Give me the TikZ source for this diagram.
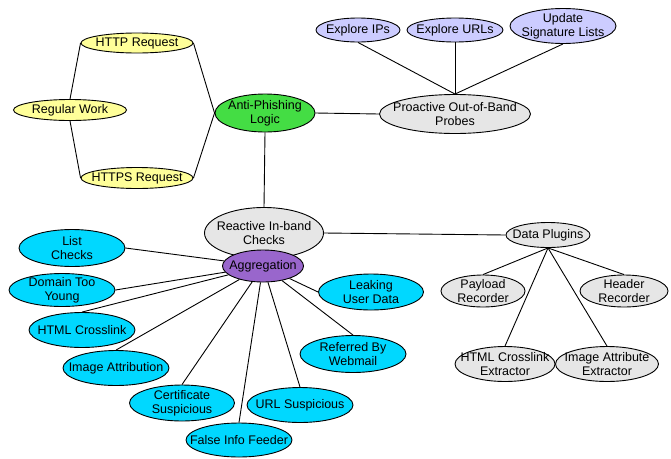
\documentclass[tikz,border=0pt]{standalone}
\usepackage{fontspec}
\setmainfont{Liberation Sans}
\usetikzlibrary{shapes.geometric,backgrounds}

\definecolor{reqyellow}{HTML}{FFFF99}
\definecolor{logicgreen}{HTML}{44DD44}
\definecolor{probeblue}{HTML}{CCCCFF}
\definecolor{plaingray}{HTML}{E6E6E6}
\definecolor{checkcyan}{HTML}{00D8FF}
\definecolor{aggpurple}{HTML}{9966CC}

\tikzset{
  bubble/.style 2 args={ellipse, draw=black, line width=0.9pt, inner sep=0pt,
    minimum width=#1, minimum height=#2},
  txt/.style={label={[align=center, inner sep=0pt,
    font=\fontsize{12.5}{13.6}\selectfont]center:#1}},
  link/.style={draw=black, line width=0.9pt},
}

\begin{document}
\begin{tikzpicture}[x=1pt, y=-1pt]
\useasboundingbox (0,0) rectangle (671,458);

% request flow
\node[bubble={112pt}{20pt}, fill=reqyellow, txt={HTTP Request}] (http) at (137,43) {};
\node[bubble={113pt}{21pt}, fill=reqyellow, txt={Regular Work}] (work) at (70,110) {};
\node[bubble={112pt}{21pt}, fill=reqyellow, txt={HTTPS Request}] (https) at (137,178) {};
\node[bubble={100pt}{38pt}, fill=logicgreen, txt={Anti-Phishing\\Logic}] (logic) at (265,113) {};

% proactive probes
\node[bubble={151pt}{39pt}, fill=plaingray, txt={Proactive Out-of-Band\\Probes}] (probes) at (455,114) {};
\node[bubble={84pt}{24pt}, fill=probeblue, txt={Explore IPs}] (ips) at (358,30) {};
\node[bubble={96pt}{24pt}, fill=probeblue, txt={Explore URLs}] (urls) at (455,30) {};
\node[bubble={106pt}{35pt}, fill=probeblue, txt={Update\\Signature Lists}] (sigs) at (563,26) {};

% reactive checks
\node[bubble={119pt}{51pt}, fill=plaingray, txt={Reactive In-band\\Checks}] (reactive) at (264,233) {};
\node[bubble={81pt}{32pt}, fill=aggpurple, txt={Aggregation}] (agg) at (263,266) {};
\node[bubble={106pt}{37pt}, fill=checkcyan, txt={List\\Checks}] (list) at (72,248) {};
\node[bubble={106pt}{33pt}, fill=checkcyan, txt={Domain Too\\Young}] (domain) at (62,290) {};
\node[bubble={106pt}{35pt}, fill=checkcyan, txt={HTML Crosslink}] (crosslink) at (82,330) {};
\node[bubble={106pt}{35pt}, fill=checkcyan, txt={Image Attribution}] (imgattr) at (116,368) {};
\node[bubble={105pt}{36pt}, fill=checkcyan, txt={Certificate\\Suspicious}] (cert) at (182,403) {};
\node[bubble={106pt}{34pt}, fill=checkcyan, txt={False Info Feeder}] (false) at (239,440) {};
\node[bubble={106pt}{35pt}, fill=checkcyan, txt={URL Suspicious}] (urlsus) at (300,405) {};
\node[bubble={106pt}{37pt}, fill=checkcyan, txt={Referred By\\Webmail}] (webmail) at (353,354) {};
\node[bubble={105pt}{36pt}, fill=checkcyan, txt={Leaking\\User Data}] (leak) at (371,292) {};

% data plugins
\node[bubble={84pt}{25pt}, fill=plaingray, txt={Data Plugins}] (plugins) at (548,235) {};
\node[bubble={84pt}{32pt}, fill=plaingray, txt={Payload\\Recorder}] (payload) at (483,291) {};
\node[bubble={88pt}{32pt}, fill=plaingray, txt={Header\\Recorder}] (header) at (624,291) {};
\node[bubble={100pt}{35pt}, fill=plaingray, txt={HTML Crosslink\\Extractor}] (xlinkext) at (505,364) {};
\node[bubble={103pt}{35pt}, fill=plaingray, txt={Image Attribute\\Extractor}] (imgext) at (607,364) {};

\begin{scope}[on background layer]
  \fill[white] (0,0) rectangle (671,458);
  % request flow
  \path[link] (work.north) -- (http.west);
  \path[link] (work.south) -- (https.west);
  \path[link] (http.east) -- (logic.west);
  \path[link] (https.east) -- (logic.west);
  % probes
  \path[link] (logic.east) -- (probes.west);
  \path[link] (ips.south) -- (probes.north);
  \path[link] (urls.south) -- (probes.north);
  \path[link] (sigs.south) -- (probes.north);
  % checks
  \path[link] (logic.south) -- (reactive.north);
  \path[link] (reactive.east) -- (plugins.west);
  \path[link] (list.east) -- (agg);
  \path[link] (domain.east) -- (agg);
  \path[link] (crosslink.north) -- (agg);
  \path[link] (imgattr.north) -- (agg);
  \path[link] (cert.north) -- (agg);
  \path[link] (false.north) -- (agg);
  \path[link] (urlsus.north) -- (agg);
  \path[link] (webmail.north) -- (agg);
  \path[link] (leak.west) -- (agg);
  % plugins
  \path[link] (plugins.south) -- (payload.north);
  \path[link] (plugins.south) -- (header.north);
  \path[link] (plugins.south) -- (xlinkext.north);
  \path[link] (plugins.south) -- (imgext.north);
\end{scope}
\end{tikzpicture}
\end{document}
